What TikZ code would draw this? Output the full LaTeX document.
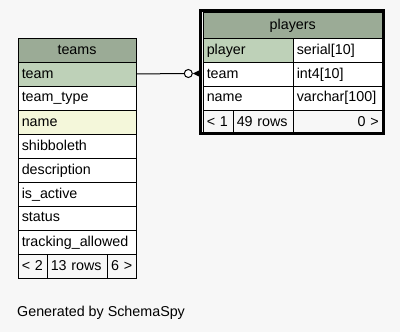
\documentclass[tikz,border=0pt]{standalone}
\usepackage{fontspec}
\setmainfont{Liberation Sans}
\definecolor{pagebg}{HTML}{F7F7F7}
\definecolor{headbg}{HTML}{9BAB96}
\definecolor{keybg}{HTML}{BED1B8}
\definecolor{indexbg}{HTML}{F4F7DA}
\begin{document}
\begin{tikzpicture}[x=1pt,y=-1pt,
  cell/.style={draw=black, line width=1pt, rectangle, anchor=north west,
    inner xsep=3.75pt, inner ysep=0pt, minimum height=24pt,
    text height=11pt, text depth=3pt,
    font=\fontsize{14.3}{16}\selectfont, fill=white},
  lcell/.style={cell, text width=#1-7.5pt, minimum width=#1, align=left},
  rcell/.style={cell, text width=#1-7.5pt, minimum width=#1, align=right},
  hcell/.style={cell, text width=#1-7.5pt, minimum width=#1, align=center, fill=headbg},
  fcell/.style={fill=pagebg}
]
% page
\fill[pagebg] (0,0) rectangle (400,332);
\useasboundingbox (0,0) rectangle (400,332);

% ---- teams ----
\node[hcell=118pt] (teams-head) at (17.5,37.5) {teams};
\node[lcell=118pt, fill=keybg] (teams-team) at (17.5,61.5) {team};
\node[lcell=118pt] (teams-type) at (17.5,85.5) {team\_type};
\node[lcell=118pt, fill=indexbg] (teams-name) at (17.5,109.5) {name};
\node[lcell=118pt] (teams-shib) at (17.5,133.5) {shibboleth};
\node[lcell=118pt] (teams-desc) at (17.5,157.5) {description};
\node[lcell=118pt] (teams-active) at (17.5,181.5) {is\_active};
\node[lcell=118pt] (teams-status) at (17.5,205.5) {status};
\node[lcell=118pt] (teams-track) at (17.5,229.5) {tracking\_allowed};
\node[lcell=29pt, fcell] (teams-parents) at (17.5,253.5) {< 2};
\node[lcell=60pt, fcell] (teams-rows) at (46.5,253.5) {13 rows};
\node[rcell=29pt, fcell] (teams-children) at (106.5,253.5) {6 >};

% ---- players ----
\node[hcell=179.5pt, minimum height=25.5pt] (players-head) at (202.5,12) {players};
\node[lcell=90pt, fill=keybg] (players-player) at (202.5,37.5) {player};
\node[lcell=89.5pt] (players-player-t) at (292.5,37.5) {serial[10]};
\node[lcell=90pt] (players-team) at (202.5,61.5) {team};
\node[lcell=89.5pt] (players-team-t) at (292.5,61.5) {int4[10]};
\node[lcell=90pt] (players-name) at (202.5,85.5) {name};
\node[lcell=89.5pt] (players-name-t) at (292.5,85.5) {varchar[100]};
\node[lcell=30pt, fcell] (players-parents) at (202.5,109.5) {< 1};
\node[lcell=60pt, fcell] (players-rows) at (232.5,109.5) {49 rows};
\node[rcell=89.5pt, fcell] (players-children) at (292.5,109.5) {0 >};
% heavy frame of the focused table
\draw[line width=3pt] (200.5,10.5) rectangle (383,133.5);

% ---- relationship teams.team -> players.team ----
\node[circle, draw=black, line width=1pt, fill=white, minimum size=8pt, inner sep=0pt]
  (rel-opt) at (188.3,73.5) {};
\coordinate (rel-end) at (199,73.5);
\draw[line width=1pt] (teams-team.east) -- (rel-opt.west);
\fill[black] (rel-opt.east) -- ([yshift=-3pt]rel-end) -- ([yshift=3pt]rel-end) -- cycle;

% ---- footer ----
\node[anchor=base west, inner sep=0pt, font=\fontsize{14.3}{16}\selectfont]
  (credit) at (17,316.5) {Generated by SchemaSpy};
\end{tikzpicture}
\end{document}
